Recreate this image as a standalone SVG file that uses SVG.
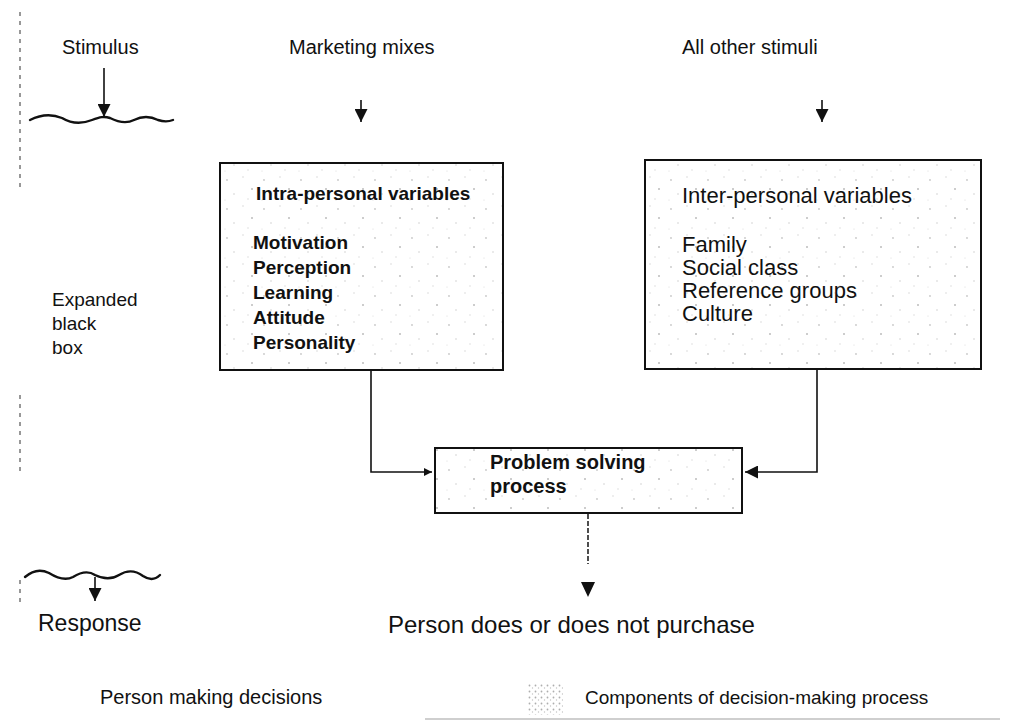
<svg xmlns="http://www.w3.org/2000/svg" width="1015" height="724" viewBox="0 0 1015 724">
  <defs>
    <style>
      .t { font-family: "Liberation Sans", Arial, sans-serif; font-size: 19px; fill: #111; }
      .s20 { font-size: 20px; }
      .s22 { font-size: 22px; }
      .s23 { font-size: 23px; }
      .s24 { font-size: 24px; }
      .b { font-weight: bold; }
      .box { fill: url(#stipple); stroke: #111; stroke-width: 2; }
      .ln { fill: none; stroke: #111; stroke-width: 1.6; }
      .dash { fill: none; stroke: #222; stroke-width: 1.6; stroke-dasharray: 5 2; }
      .wave { fill: none; stroke: #111; stroke-width: 2.4; stroke-linecap: round; }
      .edge { fill: none; stroke: #777; stroke-width: 1.5; stroke-dasharray: 4 5; }
      .rule { fill: none; stroke: #cfcfcf; stroke-width: 2; }
      .head { fill: #111; }
    </style>
    <pattern id="stipple" width="37" height="29" patternUnits="userSpaceOnUse">
      <rect width="37" height="29" fill="#ffffff"/>
      <circle cx="5" cy="6" r="0.9" fill="#c8c8c8"/>
      <circle cx="21" cy="3" r="0.7" fill="#d2d2d2"/>
      <circle cx="30" cy="15" r="1" fill="#bdbdbd"/>
      <circle cx="12" cy="20" r="0.8" fill="#cfcfcf"/>
      <circle cx="26" cy="25" r="0.7" fill="#d6d6d6"/>
      <circle cx="3" cy="26" r="0.6" fill="#dadada"/>
    </pattern>
    <pattern id="swatch" width="6" height="6" patternUnits="userSpaceOnUse">
      <rect width="6" height="6" fill="#fff"/>
      <circle cx="1.5" cy="1.5" r="0.9" fill="#9a9a9a"/>
      <circle cx="4.5" cy="4" r="0.7" fill="#b5b5b5"/>
    </pattern>
    <marker id="arr" viewBox="0 0 10 10" refX="10" refY="5" markerWidth="10" markerHeight="8" markerUnits="userSpaceOnUse" orient="auto">
      <path d="M0,0 L10,5 L0,10 z" fill="#111"/>
    </marker>
    <marker id="arrBig" viewBox="0 0 10 10" refX="10" refY="5" markerWidth="20" markerHeight="13" markerUnits="userSpaceOnUse" orient="auto">
      <path d="M0,0 L10,5 L0,10 z" fill="#111"/>
    </marker>
  </defs>

  <rect width="1015" height="724" fill="#ffffff"/>

  <!-- faint margin marks along the left edge -->
  <path class="edge" d="M20,12 V190 M20,395 V475 M20,580 V605"/>

  <!-- stimulus side (black box input) -->
  <g id="stimulus">
    <text class="t s20" x="62" y="54">Stimulus</text>
    <path class="wave" d="M30,120 C42,114 52,114 62,118 C72,124 82,124 92,120 C100,117 104,116 110,118 C118,122 126,124 134,120 C142,116 150,116 158,120 C164,122 168,122 173,120"/>
    <line class="ln" x1="104" y1="68" x2="104" y2="117" marker-end="url(#arrBig)"/>
  </g>

  <g id="expanded-label">
    <text class="t" x="52" y="306">Expanded</text>
    <text class="t" x="52" y="330">black</text>
    <text class="t" x="52" y="354">box</text>
  </g>

  <!-- response side (black box output) -->
  <g id="response">
    <path class="wave" d="M25,577 C33,570 41,569 49,573 C57,578 65,581 73,577 C81,572 89,571 95,575 C103,579 111,580 119,575 C127,570 135,570 143,576 C149,580 155,580 160,575"/>
    <line class="ln" x1="95" y1="577" x2="95" y2="601" marker-end="url(#arrBig)"/>
    <text class="t s23" x="38" y="631">Response</text>
  </g>

  <g id="marketing-mixes">
    <text class="t s20" x="289" y="54">Marketing mixes</text>
  </g>

  <g id="other-stimuli">
    <text class="t s20" x="682" y="54">All other stimuli</text>
  </g>

  <g id="intra-personal">
    <rect class="box" x="220" y="163" width="283" height="207"/>
    <text class="t b" x="256" y="200">Intra-personal variables</text>
    <text class="t b" x="253" y="249">Motivation</text>
    <text class="t b" x="253" y="274">Perception</text>
    <text class="t b" x="253" y="299">Learning</text>
    <text class="t b" x="253" y="324">Attitude</text>
    <text class="t b" x="253" y="349">Personality</text>
  </g>

  <g id="inter-personal">
    <rect class="box" x="645" y="160" width="336" height="209"/>
    <text class="t s22" x="682" y="203">Inter-personal variables</text>
    <text class="t s22" x="682" y="252">Family</text>
    <text class="t s22" x="682" y="275">Social class</text>
    <text class="t s22" x="682" y="298">Reference groups</text>
    <text class="t s22" x="682" y="321">Culture</text>
  </g>

  <g id="problem-solving">
    <rect class="box" x="435" y="448" width="307" height="65"/>
    <text class="t s20 b" x="490" y="469">Problem solving</text>
    <text class="t s20 b" x="490" y="493">process</text>
  </g>

  <g id="purchase">
    <text class="t s24" x="388" y="633">Person does or does not purchase</text>
  </g>

  <g id="legend">
    <text class="t s20" x="100" y="704">Person making decisions</text>
    <rect x="528" y="683" width="35" height="32" fill="url(#swatch)" opacity="0.8"/>
    <text class="t" x="585" y="704">Components of decision-making process</text>
    <line class="rule" x1="425" y1="719" x2="1000" y2="719"/>
  </g>

  <g id="connectors">
    <line class="ln" x1="361" y1="100" x2="361" y2="122" marker-end="url(#arrBig)"/>
    <line class="ln" x1="822" y1="100" x2="822" y2="122" marker-end="url(#arrBig)"/>
    <polyline class="ln" points="371,370 371,472 432,472" marker-end="url(#arr)"/>
    <polyline class="ln" points="817,369 817,472 745,472" marker-end="url(#arrBig)"/>
    <line class="dash" x1="588" y1="514" x2="588" y2="564"/>
    <polygon class="head" points="581,582 595,582 588,597"/>
  </g>
</svg>
